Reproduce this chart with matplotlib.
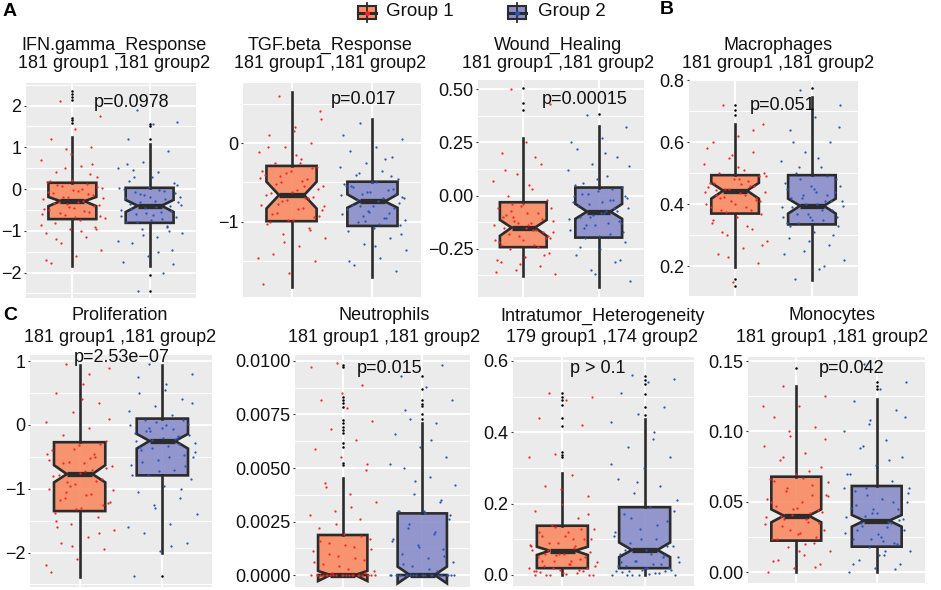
import matplotlib
matplotlib.use("Agg")
from matplotlib import pyplot as plt
from matplotlib.patches import Rectangle
from matplotlib.lines import Line2D
from matplotlib.colors import to_rgba
import numpy as np

plt.rcParams['font.family'] = ['Liberation Sans', 'DejaVu Sans']

# ---- data ----
titles = ["IFN.gamma_Response", "TGF.beta_Response", "Wound_Healing", "Macrophages",
          "Proliferation", "Neutrophils", "Intratumor_Heterogeneity", "Monocytes"]
counts = ["181 group1 ,181 group2"] * 6 + ["179 group1 ,174 group2", "181 group1 ,181 group2"]
pvals = ["p=0.0978", "p=0.017", "p=0.00015", "p=0.051",
         "p=2.53e\u221207", "p=0.015", "p > 0.1", "p=0.042"]

# box statistics per panel: [group1, group2]
box_q1 = [[-0.72, -0.81], [-0.99, -1.05], [-0.242, -0.197], [0.370, 0.335],
          [-1.35, -0.79], [0.0, 0.0], [0.019, 0.019], [0.0225, 0.0182]]
box_med = [[-0.29, -0.40], [-0.66, -0.74], [-0.150, -0.075], [0.444, 0.395],
           [-0.77, -0.25], [0.0, 0.0], [0.068, 0.070], [0.0402, 0.0367]]
box_q3 = [[0.15, 0.03], [-0.29, -0.49], [-0.031, 0.038], [0.494, 0.494],
          [-0.27, 0.10], [0.00187, 0.00288], [0.138, 0.190], [0.0679, 0.0613]]
whisk_lo = [[-1.85, -1.84], [-1.82, -1.70], [-0.377, -0.427], [0.198, 0.155],
            [-2.39, -2.01], [0.0, 0.0], [0.0, 0.0], [0.0, 0.0]]
whisk_hi = [[1.25, 1.08], [0.64, 0.30], [0.269, 0.327], [0.66, 0.745],
            [0.94, 0.94], [0.00452, 0.00709], [0.287, 0.437], [0.132, 0.1228]]
notch_lo = [[-0.41, -0.55], [-0.83, -0.82], [-0.189, -0.109], [0.418, 0.370],
            [-0.90, -0.37], [-0.00028, -0.00039], [0.056, 0.050], [0.0355, 0.0324]]
notch_hi = [[-0.19, -0.26], [-0.49, -0.65], [-0.114, -0.039], [0.469, 0.418],
            [-0.63, -0.14], [0.00019, 0.00039], [0.079, 0.091], [0.0447, 0.0407]]

fliers_g1 = [[2.36, 2.28, 2.20, 2.14, 1.70, 1.66, 1.59], [], [0.505, 0.434, 0.40],
             [0.72, 0.705, 0.687, 0.16, 0.135], [],
             [0.00981, 0.00974, 0.00834, 0.00818, 0.00802, 0.00787, 0.00724, 0.00709,
              0.00693, 0.00678, 0.00662, 0.00615, 0.0060, 0.00522, 0.00514],
             [0.51, 0.50, 0.49, 0.477, 0.44, 0.418, 0.346, 0.337, 0.332], [0.145]]
fliers_g2 = [[1.55, 1.50, 1.21, -2.07, -2.44], [], [0.383], [0.774], [-2.37],
             [0.0093, 0.0087, 0.0082, 0.0080, 0.0079, 0.0075, 0.0073],
             [0.558, 0.547, 0.536, 0.508, 0.472, 0.449], [0.135, 0.132, 0.130]]

points_g1 = [
    [2.1, 1.75, 1.45, 1.2, 1.0, 0.95, 0.7, 0.55, 0.4, 0.3, 0.22, 0.18, 0.12, 0.08, 0.02, -0.05,
     -0.1, -0.15, -0.2, -0.25, -0.28, -0.32, -0.38, -0.45, -0.5, -0.55, -0.62, -0.7, -0.75,
     -0.82, -0.9, -0.95, -1.05, -1.15, -1.3, -1.45, -1.6, -1.78, 0.6, -0.35, -0.6, 0.0,
     0.1, 0.05, -0.02, -0.08, -0.12, -0.18, -0.22, -0.3, -0.34, -0.4, -0.42, -0.48, -0.52,
     -0.58, -0.65, -0.68, 0.2, 0.35, 0.5, -0.85, -1.0, -1.2, -0.95, 0.85, -1.7],
    [0.6, 0.3, 0.2, 0.1, 0.0, -0.05, -0.12, -0.2, -0.25, -0.3, -0.35, -0.4, -0.45, -0.5, -0.55,
     -0.6, -0.63, -0.68, -0.72, -0.78, -0.82, -0.88, -0.92, -0.97, -1.02, -1.08, -1.15, -1.2,
     -1.3, -1.4, -1.5, -1.65, -1.78, -0.7, -0.42, -0.85, -0.15, -1.0,
     -0.32, -0.38, -0.44, -0.48, -0.52, -0.58, -0.62, -0.66, -0.7, -0.74, -0.8, -0.84, -0.9,
     -0.94, -0.98, -0.35, -0.55, -0.77, 0.4, 0.15, -0.05, -1.1, -1.25, -1.45, -0.25],
    [0.5, 0.43, 0.25, 0.2, 0.15, 0.1, 0.07, 0.03, 0.0, -0.02, -0.04, -0.06, -0.08, -0.1, -0.12,
     -0.14, -0.15, -0.17, -0.19, -0.21, -0.23, -0.25, -0.27, -0.29, -0.31, -0.33, -0.35, -0.37,
     -0.13, -0.09, -0.2, -0.05, -0.3, -0.16,
     -0.04, -0.06, -0.08, -0.1, -0.11, -0.13, -0.14, -0.16, -0.18, -0.19, -0.21, -0.22, -0.24,
     -0.12, -0.17, 0.05, 0.12, -0.28, -0.32, -0.36, 0.18, -0.07, -0.2, -0.15, -0.23],
    [0.72, 0.66, 0.62, 0.6, 0.57, 0.55, 0.53, 0.51, 0.5, 0.49, 0.48, 0.47, 0.46, 0.45, 0.44,
     0.435, 0.43, 0.42, 0.41, 0.4, 0.39, 0.38, 0.37, 0.36, 0.34, 0.32, 0.3, 0.28, 0.26, 0.24,
     0.21, 0.15, 0.455, 0.475, 0.425, 0.5,
     0.48, 0.47, 0.46, 0.45, 0.44, 0.43, 0.42, 0.41, 0.4, 0.39, 0.38, 0.375, 0.49, 0.465,
     0.445, 0.415, 0.56, 0.58, 0.33, 0.31, 0.27, 0.52, 0.35, 0.64, 0.23],
    [0.95, 0.9, 0.65, 0.5, 0.35, 0.2, 0.05, -0.05, -0.15, -0.25, -0.32, -0.4, -0.5, -0.58, -0.65,
     -0.72, -0.78, -0.85, -0.92, -1.0, -1.08, -1.15, -1.22, -1.3, -1.38, -1.45, -1.55, -1.65,
     -1.75, -1.85, -1.95, -2.1, -2.3, -0.45, -0.9, -1.2, -0.6, -1.6,
     -0.3, -0.38, -0.45, -0.52, -0.6, -0.68, -0.75, -0.8, -0.88, -0.95, -1.02, -1.1, -1.18,
     -1.25, -1.32, -0.55, -0.7, -1.05, 0.1, 0.4, -1.5, -1.7, -1.9, -2.2, 0.8],
    [0, 0, 0, 0, 0, 0, 0, 0, 0, 0, 0, 0, 0, 0.0001, 0.0002, 0.0003, 0.0005, 0.0007, 0.0009,
     0.0011, 0.0013, 0.0015, 0.0017, 0.0019, 0.0022, 0.0026, 0.003, 0.0034, 0.0038, 0.0043,
     0.0049, 0.0055, 0.0059, 0.0063, 0.0068, 0.0072, 0.0078, 0.0082, 0.0089, 0.0099, 0.0097,
     0, 0, 0, 0, 0, 0, 0, 0, 0, 0, 0.0001, 0.0004, 0.0006, 0.0008, 0.001, 0.0012, 0.0014,
     0.0016, 0.0018, 0.0024, 0.0028, 0.0032, 0.0041, 0.0052, 0.0085],
    [0.51, 0.5, 0.49, 0.44, 0.42, 0.34, 0.33, 0.28, 0.25, 0.22, 0.2, 0.18, 0.16, 0.14, 0.13,
     0.12, 0.11, 0.1, 0.09, 0.08, 0.075, 0.07, 0.065, 0.06, 0.05, 0.045, 0.04, 0.035, 0.03,
     0.025, 0.02, 0.015, 0.01, 0.005, 0.0, 0.0, 0.003, 0.008, 0.012, 0.055, 0.085, 0.1,
     0.0, 0.0, 0.005, 0.01, 0.015, 0.02, 0.025, 0.03, 0.04, 0.05, 0.06, 0.07, 0.08, 0.09, 0.1,
     0.11, 0.12, 0.13, 0.135, 0.02, 0.04, 0.06, 0.17, 0.24, 0.0],
    [0.132, 0.125, 0.118, 0.11, 0.103, 0.097, 0.09, 0.085, 0.08, 0.075, 0.07, 0.066, 0.062,
     0.058, 0.054, 0.05, 0.047, 0.044, 0.041, 0.039, 0.036, 0.033, 0.03, 0.027, 0.024, 0.021,
     0.018, 0.015, 0.012, 0.009, 0.006, 0.003, 0.0, 0.042, 0.038, 0.055, 0.028, 0.065,
     0.025, 0.03, 0.034, 0.038, 0.04, 0.043, 0.046, 0.05, 0.055, 0.06, 0.064, 0.067, 0.024,
     0.035, 0.045, 0.052, 0.072, 0.082, 0.095, 0.015, 0.008, 0.004, 0.1, 0.118, 0.02],
]
points_g2 = [
    [1.9, 1.6, 1.55, 1.2, 0.9, 0.65, 0.5, 0.4, 0.3, 0.15, 0.05, 0.0, -0.05, -0.12, -0.2, -0.28,
     -0.35, -0.4, -0.45, -0.5, -0.55, -0.6, -0.68, -0.75, -0.8, -0.88, -0.95, -1.05, -1.15,
     -1.3, -1.45, -1.6, -1.75, -2.0, -2.45, -0.3, -0.62, 0.2, -1.0, -0.15,
     0.02, -0.02, -0.08, -0.1, -0.18, -0.22, -0.25, -0.32, -0.38, -0.42, -0.48, -0.52, -0.58,
     -0.65, -0.72, -0.78, 0.1, 0.3, 0.6, -0.9, -1.1, -1.25, -1.5, 0.45, -1.8],
    [0.25, 0.05, -0.05, -0.1, -0.18, -0.25, -0.3, -0.35, -0.4, -0.45, -0.5, -0.55, -0.6, -0.65,
     -0.7, -0.74, -0.78, -0.82, -0.86, -0.9, -0.95, -1.0, -1.04, -1.08, -1.12, -1.2, -1.28,
     -1.35, -1.45, -1.55, -1.62, -0.62, -0.52, -0.95, -0.8, -0.68,
     -0.5, -0.54, -0.58, -0.62, -0.66, -0.7, -0.72, -0.76, -0.8, -0.84, -0.88, -0.92, -0.97,
     -1.02, -0.56, -0.64, -0.87, 0.1, -0.2, -0.38, -1.15, -1.3, -1.5, -0.42, -0.99],
    [0.38, 0.32, 0.27, 0.22, 0.18, 0.15, 0.12, 0.09, 0.06, 0.04, 0.02, 0.0, -0.02, -0.04, -0.06,
     -0.08, -0.1, -0.12, -0.14, -0.16, -0.18, -0.2, -0.22, -0.25, -0.28, -0.31, -0.35, -0.4,
     -0.07, 0.01, -0.13, 0.08, -0.03,
     0.03, 0.01, -0.01, -0.03, -0.05, -0.07, -0.09, -0.11, -0.13, -0.15, -0.17, -0.19, 0.05,
     -0.06, -0.1, 0.14, 0.2, -0.24, -0.3, -0.37, 0.25, -0.02, -0.14, 0.0, -0.08],
    [0.77, 0.72, 0.68, 0.64, 0.6, 0.57, 0.54, 0.52, 0.5, 0.48, 0.46, 0.45, 0.43, 0.42, 0.41,
     0.4, 0.39, 0.38, 0.37, 0.36, 0.35, 0.34, 0.33, 0.31, 0.29, 0.27, 0.25, 0.22, 0.19, 0.16,
     0.44, 0.36, 0.47, 0.41,
     0.48, 0.46, 0.44, 0.42, 0.41, 0.4, 0.39, 0.38, 0.37, 0.36, 0.35, 0.34, 0.49, 0.43, 0.395,
     0.55, 0.6, 0.3, 0.28, 0.24, 0.2, 0.52, 0.65, 0.45, 0.33],
    [0.95, 0.8, 0.65, 0.5, 0.4, 0.3, 0.22, 0.15, 0.08, 0.02, -0.05, -0.12, -0.18, -0.24, -0.28,
     -0.33, -0.4, -0.47, -0.55, -0.62, -0.7, -0.78, -0.85, -0.95, -1.05, -1.15, -1.25, -1.4,
     -1.55, -1.7, -1.85, -1.98, -2.37, -0.2, -0.1, -0.5, 0.0, -0.35,
     0.08, 0.04, 0.0, -0.06, -0.1, -0.15, -0.2, -0.25, -0.3, -0.36, -0.42, -0.5, -0.58, -0.65,
     -0.72, -0.78, -0.22, -0.05, 0.35, 0.55, 0.75, -1.0, -1.3, -1.6, -1.9],
    [0, 0, 0, 0, 0, 0, 0, 0, 0, 0, 0, 0, 0.0002, 0.0004, 0.0006, 0.0008, 0.001, 0.0012, 0.0014,
     0.0016, 0.0019, 0.0022, 0.0026, 0.003, 0.003, 0.0034, 0.0038, 0.0042, 0.0046, 0.005,
     0.0055, 0.006, 0.0066, 0.0071, 0.0073, 0.0082, 0.0088, 0.0093, 0.0098,
     0, 0, 0, 0, 0, 0, 0, 0, 0, 0, 0.0003, 0.0005, 0.0009, 0.0013, 0.0017, 0.002, 0.0024,
     0.0028, 0.0029, 0.003, 0.0035, 0.0044, 0.0052, 0.0063, 0.0077],
    [0.56, 0.55, 0.54, 0.51, 0.47, 0.45, 0.43, 0.4, 0.36, 0.33, 0.3, 0.27, 0.25, 0.23, 0.21,
     0.19, 0.17, 0.15, 0.13, 0.11, 0.1, 0.09, 0.08, 0.07, 0.06, 0.05, 0.04, 0.035, 0.03, 0.025,
     0.02, 0.015, 0.01, 0.005, 0.0, 0.0, 0.002, 0.008, 0.012,
     0.0, 0.0, 0.005, 0.01, 0.015, 0.02, 0.025, 0.03, 0.04, 0.05, 0.06, 0.07, 0.08, 0.1, 0.12,
     0.14, 0.16, 0.18, 0.02, 0.035, 0.055, 0.26, 0.31, 0.38, 0.0],
    [0.148, 0.135, 0.13, 0.122, 0.115, 0.108, 0.1, 0.094, 0.088, 0.082, 0.076, 0.07, 0.065,
     0.06, 0.056, 0.052, 0.048, 0.045, 0.042, 0.039, 0.036, 0.033, 0.03, 0.027, 0.024, 0.021,
     0.018, 0.015, 0.012, 0.009, 0.006, 0.003, 0.0, 0.035, 0.04, 0.05, 0.025, 0.058,
     0.02, 0.024, 0.028, 0.032, 0.035, 0.038, 0.042, 0.046, 0.05, 0.055, 0.06, 0.022, 0.03,
     0.037, 0.045, 0.07, 0.08, 0.09, 0.11, 0.012, 0.006, 0.002, 0.105, 0.06, 0.015],
]

ytick_vals = [[-2, -1, 0, 1, 2], [-1, 0], [-0.25, 0, 0.25, 0.5], [0.2, 0.4, 0.6, 0.8],
              [-2, -1, 0, 1], [0, 0.0025, 0.005, 0.0075, 0.01], [0, 0.2, 0.4, 0.6],
              [0, 0.05, 0.1, 0.15]]
ytick_labels = [["\u22122", "\u22121", "0", "1", "2"], ["\u22121", "0"],
                ["\u22120.25", "0.00", "0.25", "0.50"], ["0.2", "0.4", "0.6", "0.8"],
                ["\u22122", "\u22121", "0", "1"],
                ["0.0000", "0.0025", "0.0050", "0.0075", "0.0100"],
                ["0.0", "0.2", "0.4", "0.6"], ["0.00", "0.05", "0.10", "0.15"]]
group_names = ["Group 1", "Group 2"]

# ---- layout (pixels) ----
W, H = 941, 590
panel_px = [(26, 83, 196, 298), (243, 83, 421, 297), (478, 80, 644, 297), (689, 80, 858, 296),
            (30, 355, 212, 587), (295, 355, 470, 587), (513, 357, 694, 586), (748, 357, 925, 583)]
ylims = [(-2.61, 2.54), (-1.95, 0.76), (-0.476, 0.543), (0.104, 0.801),
         (-2.54, 1.097), (-0.00056, 0.01028), (-0.031, 0.611), (-0.0076, 0.1529)]
title_y = [(45, 64)] * 4 + [(316, 337)] * 4
title_dx = [3, -2, -3, 5, -1, 2, -1, -4]
plab_pos = [(0.624, 0.907), (0.68, 0.925), (0.645, 0.912), (0.556, 0.88),
            (0.505, 0.99), (0.543, 0.94), (0.468, 0.948), (0.588, 0.947)]

fill_cols = ['#FA8C66', '#8C8ECB']
dot_cols = ['#FF2020', '#2456B4']
edge_col = '#2B2B2B'
txt_col = '#111111'

fig = plt.figure(figsize=(W / 100, H / 100), dpi=100)


def jitter(n):
    # fixed spread pattern for the point cloud around each box
    k = np.arange(n)
    return ((k * 0.6180339887 + 0.31) % 1.0 - 0.5) * 0.84


for i in range(8):
    x0, y0, x1, y1 = panel_px[i]
    ax = fig.add_axes([x0 / W, 1 - y1 / H, (x1 - x0) / W, (y1 - y0) / H])
    ax.set_facecolor('#EBEBEB')
    for s in ax.spines.values():
        s.set_visible(False)
    ax.set_xlim(0.4, 2.6)
    ax.set_ylim(*ylims[i])

    ticks = ytick_vals[i]
    step = ticks[1] - ticks[0]
    minors = [t - step / 2 for t in ticks] + [ticks[-1] + step / 2]
    for m in minors:
        ax.axhline(m, color='white', lw=0.7, zorder=0.5)
    for t in ticks:
        ax.axhline(t, color='white', lw=1.4, zorder=0.6)
    for xv in (1, 2):
        ax.axvline(xv, color='white', lw=1.4, zorder=0.6)

    stats = []
    for g in range(2):
        stats.append(dict(med=box_med[i][g], q1=box_q1[i][g], q3=box_q3[i][g],
                          whislo=whisk_lo[i][g], whishi=whisk_hi[i][g],
                          cilo=notch_lo[i][g], cihi=notch_hi[i][g],
                          fliers=[fliers_g1, fliers_g2][g][i]))
    bp = ax.bxp(stats, positions=[1, 2], widths=0.62, shownotches=True,
                showcaps=False, patch_artist=True, manage_ticks=False,
                boxprops=dict(linewidth=1.9, edgecolor=edge_col),
                whiskerprops=dict(linewidth=1.9, color=edge_col),
                medianprops=dict(linewidth=3.8, color=edge_col, solid_capstyle='butt'),
                flierprops=dict(marker='o', markersize=1.8, markerfacecolor='black',
                                markeredgecolor='black', markeredgewidth=0))
    for g, patch in enumerate(bp['boxes']):
        patch.set_facecolor(to_rgba(fill_cols[g], 0.92))
        patch.set_zorder(2)
    for art in bp['whiskers'] + bp['medians']:
        art.set_zorder(2.5)
    for art in bp['fliers']:
        art.set_zorder(3)

    for g, pts in enumerate([points_g1[i], points_g2[i]]):
        pts = np.asarray(pts, dtype=float)
        ax.scatter(g + 1 + jitter(len(pts)), pts, s=2.6, color=dot_cols[g],
                   linewidths=0, zorder=2.8)

    ax.set_xticks([])
    ax.set_yticks(ticks)
    ax.set_yticklabels(ytick_labels[i])
    ax.tick_params(axis='y', length=1.8, width=0.8, color='#333333', pad=1.5,
                   labelsize=13, labelcolor=txt_col)

    ax.text(plab_pos[i][0], plab_pos[i][1], pvals[i], transform=ax.transAxes,
            ha='center', va='center', fontsize=13, color=txt_col, zorder=5)

    cx = (x0 + x1) / 2 + title_dx[i]
    fig.text(cx / W, 1 - title_y[i][0] / H, titles[i], ha='center', va='center',
             fontsize=13, color=txt_col)
    fig.text(cx / W, 1 - title_y[i][1] / H, counts[i], ha='center', va='center',
             fontsize=13, color=txt_col)

# panel letters
for lab, (px, py) in zip(["A", "B", "C"], [(3, 11), (660, 10), (3, 315)]):
    fig.text(px / W, 1 - py / H, lab, ha='left', va='center', fontsize=14,
             fontweight='bold', color='black')

# legend
for g, (lx, tx) in enumerate([(367, 386), (517, 538)]):
    fig.add_artist(Line2D([lx / W, lx / W], [1 - 3 / H, 1 - 22 / H], color=edge_col,
                          lw=1.3, transform=fig.transFigure))
    fig.add_artist(Rectangle(((lx - 9) / W, 1 - 19 / H), 18 / W, 13 / H,
                             facecolor=fill_cols[g], edgecolor=edge_col, lw=1.5,
                             transform=fig.transFigure))
    fig.add_artist(Line2D([(lx - 9) / W, (lx + 9) / W], [1 - 12.5 / H, 1 - 12.5 / H],
                          color=edge_col, lw=2.2, transform=fig.transFigure))
    fig.add_artist(Line2D([lx / W], [1 - 12.5 / H], marker='o', markersize=2.5,
                          color=dot_cols[g], lw=0, transform=fig.transFigure))
    fig.text(tx / W, 1 - 12 / H, group_names[g], ha='left', va='center', fontsize=13.5,
             color=txt_col)

fig.savefig('out.png', dpi=100)
